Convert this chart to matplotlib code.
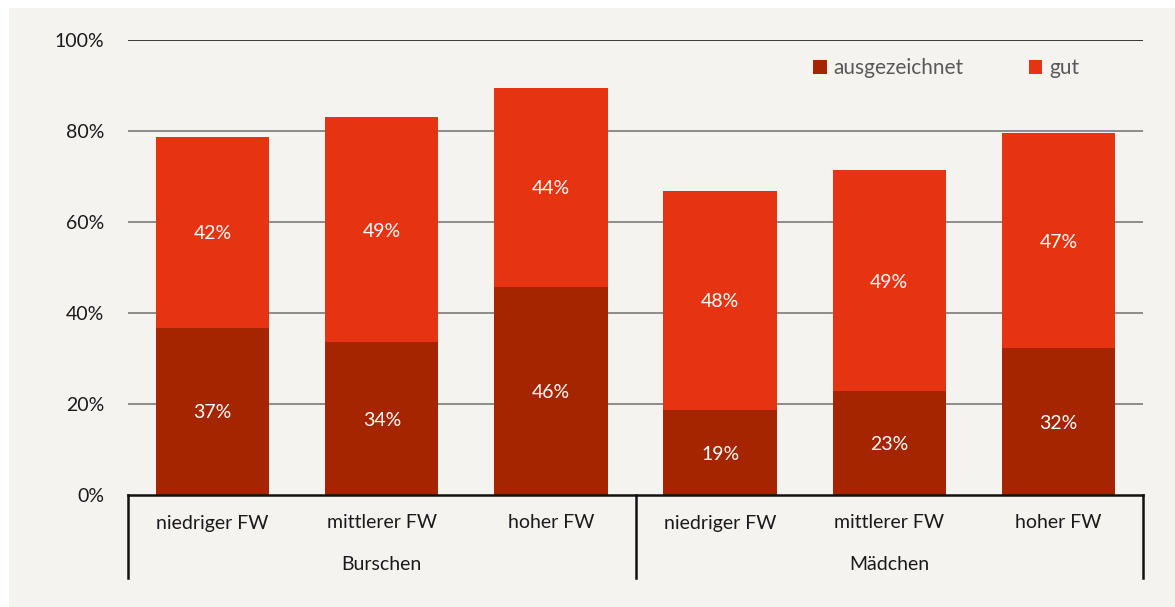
import matplotlib
matplotlib.use("Agg")
import matplotlib.pyplot as plt
from matplotlib.patches import Rectangle
from matplotlib.lines import Line2D

categories = ["niedriger FW", "mittlerer FW", "hoher FW", "niedriger FW", "mittlerer FW", "hoher FW"]
groups = ["Burschen", "Mädchen"]
ausgezeichnet = [36.8, 33.6, 45.8, 18.6, 22.8, 32.2]
gut = [41.8, 49.4, 43.7, 48.3, 48.6, 47.4]
yticks = [0, 20, 40, 60, 80, 100]

plt.rcParams['font.family'] = ['Lato', 'DejaVu Sans']
W, H = 1175, 607
fig = plt.figure(figsize=(W / 100, H / 100), dpi=100)
fig.patch.set_facecolor("white")
fig.patches.append(Rectangle((9 / W, 0), 1, 1 - 8 / H, transform=fig.transFigure,
                             facecolor="#f4f3f0", edgecolor="none", zorder=-10))

ax = fig.add_axes([128 / W, (H - 495) / H, (1143 - 128) / W, (495 - 40) / H])
ax.set_facecolor("none")
c_dark = "#a52500"
c_red = "#e63312"
x = list(range(len(categories)))
bw = 0.67
ax.bar(x, ausgezeichnet, bw, color=c_dark, label="ausgezeichnet", zorder=3)
ax.bar(x, gut, bw, bottom=ausgezeichnet, color=c_red, label="gut", zorder=3)
for i in x:
    ax.text(i, ausgezeichnet[i] / 2, f"{ausgezeichnet[i]:.0f}%", ha="center", va="center_baseline",
            color="white", fontsize=14, zorder=4)
    ax.text(i, ausgezeichnet[i] + gut[i] / 2, f"{gut[i]:.0f}%", ha="center", va="center_baseline",
            color="white", fontsize=14, zorder=4)

ax.set_xlim(-0.5, len(categories) - 0.5)
ax.set_ylim(0, 100)
ax.set_yticks(yticks)
ax.set_yticklabels([f"{t}%" for t in yticks], fontsize=14, color="#1a1a1a")
ax.tick_params(axis="y", length=0, pad=17)
ax.set_xticks([])
for t in yticks[1:]:
    ax.axhline(t, color="#1a1a1a" if t == 100 else "#7a7a7a", lw=1.2, zorder=1)
for s in ["top", "right", "left"]:
    ax.spines[s].set_visible(False)
ax.spines["bottom"].set_color("#111111")
ax.spines["bottom"].set_linewidth(1.8)
ax.spines["bottom"].set_zorder(5)

tr = ax.get_xaxis_transform()
for i in x:
    ax.text(i, -(523 - 495) / 455, categories[i], transform=tr, ha="center", va="center",
            fontsize=14, color="#1a1a1a")
for g, gname in enumerate(groups):
    ax.text(3 * g + 1, -(565 - 495) / 455, gname, transform=tr, ha="center", va="center",
            fontsize=14, color="#1a1a1a")
for xs in [-0.5, 2.5, 5.5]:
    ax.add_line(Line2D([xs, xs], [0, -(578 - 495) / 455], transform=tr, color="#111111",
                       lw=1.8, clip_on=False))

leg = ax.legend(loc="upper left", frameon=False, ncol=2, fontsize=15, handlelength=0.65,
                handleheight=0.65, columnspacing=3.1, handletextpad=0.35, labelcolor="#595959",
                borderaxespad=0, borderpad=0)
leg.set_bbox_to_anchor((813 / W, (H - 58) / H), transform=fig.transFigure)

fig.savefig("out.png", dpi=100, facecolor=fig.get_facecolor())
